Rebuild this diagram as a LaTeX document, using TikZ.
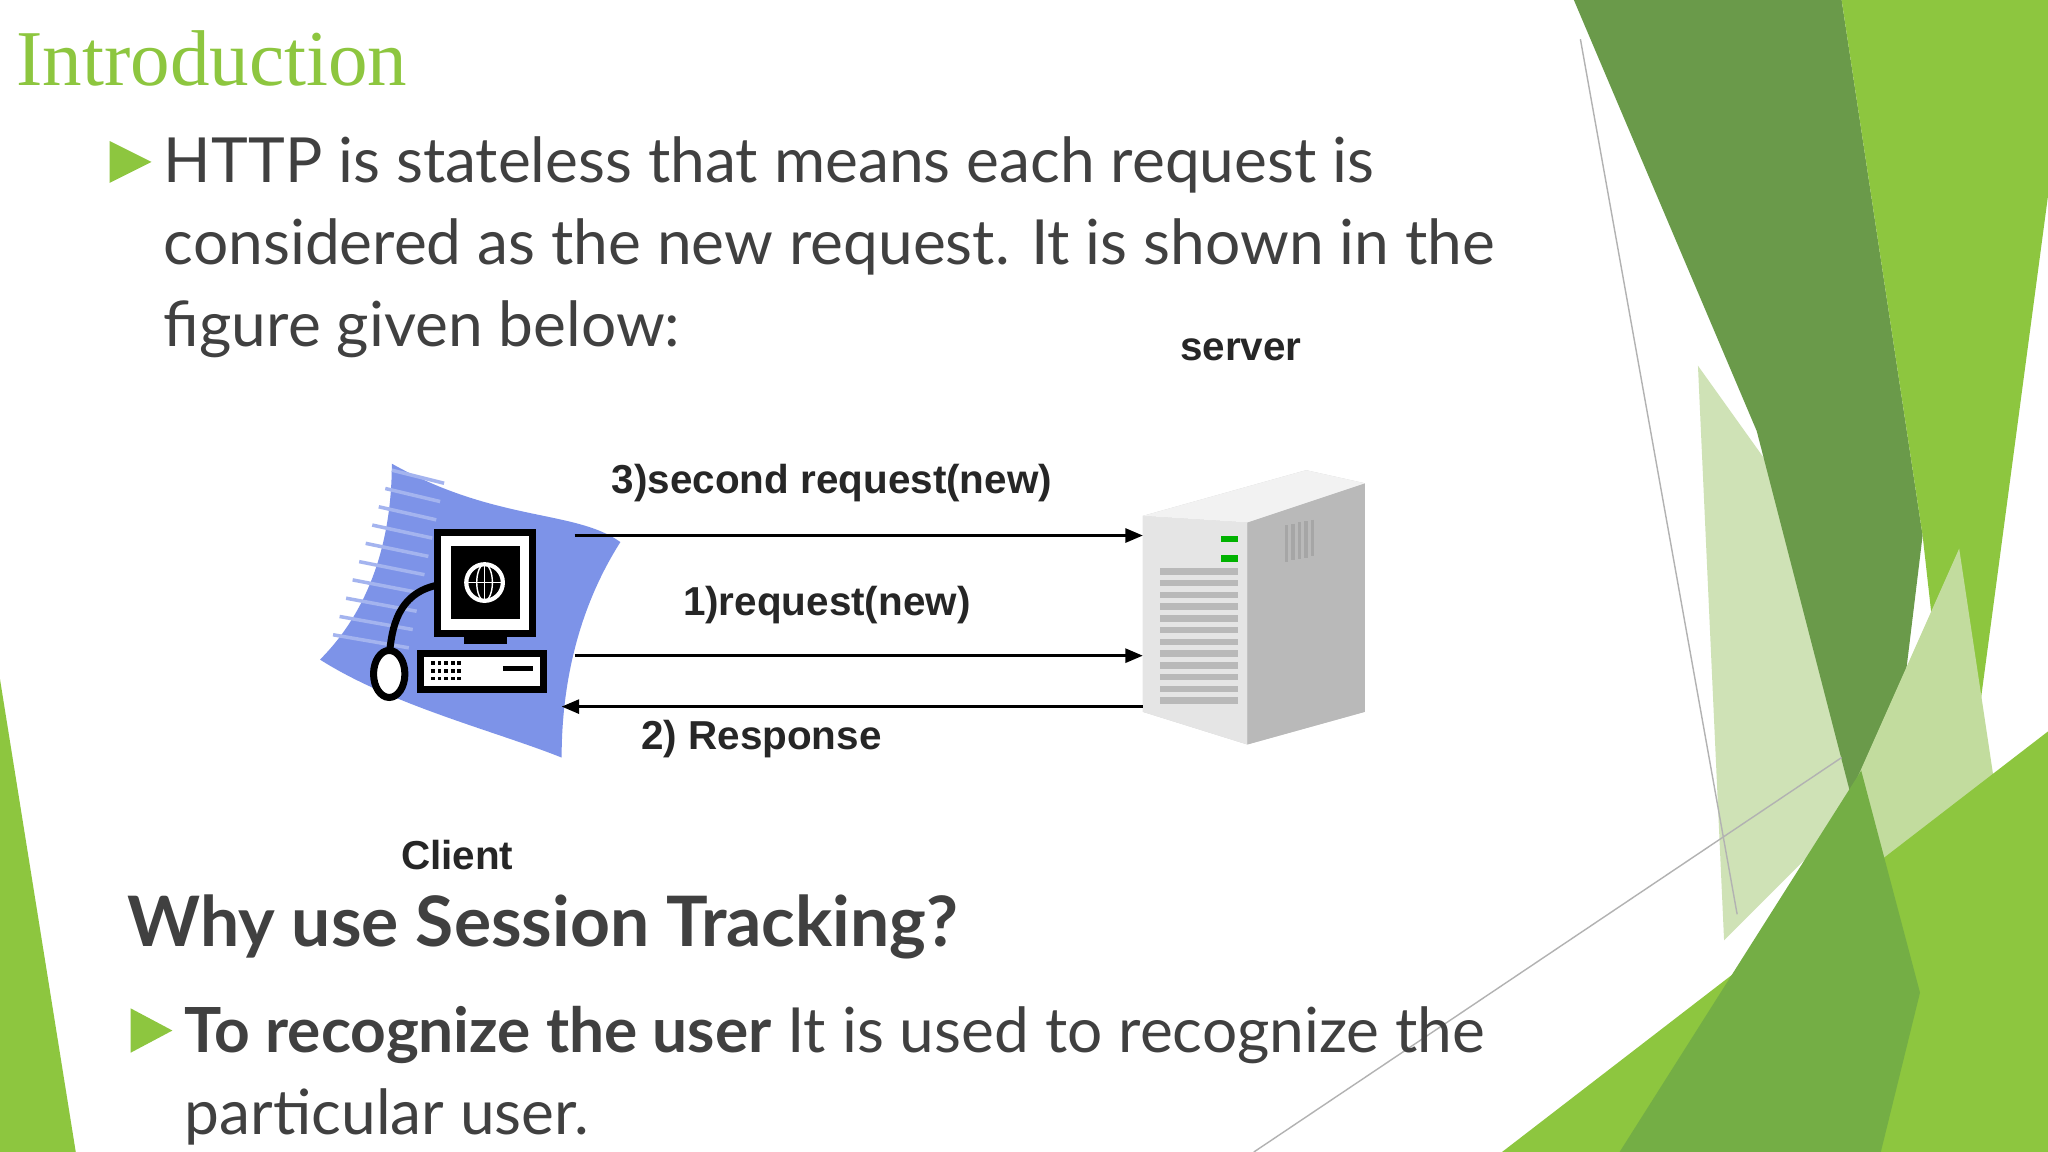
\documentclass[tikz,border=0pt]{standalone}
\usepackage{fontspec}
\setmainfont{Lato}
\newfontfamily\dfont{Liberation Sans}
\newfontfamily\tfont{Liberation Serif}
\usetikzlibrary{arrows.meta}
\definecolor{lg}{HTML}{8DC63F}
\definecolor{dg}{HTML}{6A9A4A}
\definecolor{mg}{HTML}{74AE45}
\definecolor{pg}{HTML}{CFE2B6}
\definecolor{txt}{HTML}{404040}
\definecolor{sw}{HTML}{7D93E8}
\tikzset{conn/.style={-{Triangle[length=5pt,width=4pt]},line width=0.8pt,black},
 lab/.style={font=\dfont\bfseries\fontsize{11.5}{12}\selectfont,text=black!85,inner sep=0pt}}
\begin{document}
\begin{tikzpicture}[x=0.013061cm,y=-0.013061cm]
\useasboundingbox (0,0) rectangle (1568,882);
\fill[white] (0,0) rectangle (1568,882);
% decorative shapes
\fill[pg] (1300,280) -- (1400,420) -- (1420,620) -- (1320,720) -- cycle;
\fill[dg] (1205,0) -- (1410,0) -- (1472,410) -- (1438,690) -- (1345,330) -- cycle;
\fill[lg] (1410,0) -- (1568,0) -- (1568,150) -- (1500,660) -- (1472,410) -- cycle;
\fill[pg!80!lg] (1420,600) -- (1500,420) -- (1530,620) -- (1470,760) -- cycle;
\fill[lg] (1150,882) -- (1568,560) -- (1568,882) -- cycle;
\fill[mg] (1240,882) -- (1425,590) -- (1470,760) -- (1440,882) -- cycle;
\fill[lg] (0,520) -- (58,882) -- (0,882) -- cycle;
\draw[gray!60,thin] (1210,30) -- (1330,700);
\draw[gray!60,thin] (960,882) -- (1410,580);
% texts
\node[anchor=west,text=lg,font=\tfont\fontsize{22.5}{23}\selectfont,inner sep=0pt] (title) at (12,45) {Introduction};
\fill[lg] (84,108) -- (116,124) -- (84,140) -- cycle;
\node[anchor=north west,text=txt,align=left,font=\fontsize{17.7}{23.3}\selectfont,inner sep=0pt] (p1) at (125,104)
 {HTTP is stateless that means each request is\\considered as the new request. It is shown in the\\figure given below:};
\node[anchor=west,text=txt,font=\bfseries\fontsize{19.8}{20}\selectfont,inner sep=0pt] (h2) at (97,710) {Why use Session Tracking?};
\fill[lg] (100,772) -- (132,789) -- (100,806) -- cycle;
\node[anchor=north west,text=txt,align=left,font=\fontsize{17.7}{23.3}\selectfont,inner sep=0pt] (p2) at (141,770)
 {\textbf{To recognize the user} It is used to recognize the\\particular user.};
% client swoosh
\fill[sw] (300,355) .. controls (380,400) and (440,390) .. (475,415) .. controls (440,470) and (430,530) .. (430,580) .. controls (380,560) and (300,540) .. (245,505) .. controls (290,460) and (300,400) .. (300,355) -- cycle;
\foreach \i in {0,...,9} \draw[sw!70,line width=1pt] (300-\i*5,360+\i*14) -- (340-\i*3,370+\i*14);
% computer
\draw[line width=2pt,fill=white] (335,408) rectangle (408,485);
\fill[black] (345,418) rectangle (398,474);
\draw[white,line width=1.2pt] (371,446) circle (14);
\draw[white] (357,446) -- (385,446) (371,432) -- (371,460);
\draw[white] (371,446) ellipse (6 and 14);
\fill[black] (355,485) rectangle (388,493);
\draw[line width=2pt,fill=white] (322,500) rectangle (416,528);
\draw[line width=1.5pt] (385,512) -- (408,512);
\foreach \a in {0,...,4} \foreach \b in {0,1,2} \fill (330+\a*5,506+\b*6) rectangle +(3,3);
\draw[line width=2pt] (335,448) .. controls (300,455) and (300,490) .. (298,500);
\draw[line width=2pt,fill=white] (298,516) ellipse (12 and 18);
% server
\fill[gray!35] (875,395) -- (1000,360) -- (1045,370) -- (1045,545) -- (955,570) -- (875,545) -- cycle;
\fill[gray!20] (875,395) -- (955,400) -- (955,570) -- (875,545) -- cycle;
\fill[gray!55] (955,400) -- (1045,370) -- (1045,545) -- (955,570) -- cycle;
\fill[gray!10] (875,395) -- (1000,360) -- (1045,370) -- (955,400) -- cycle;
\foreach \k in {0,...,11} \fill[gray!55] (888,435+\k*9) rectangle (948,440+\k*9);
\fill[green!70!black] (935,410) rectangle (948,415);
\fill[green!70!black] (935,425) rectangle (948,430);
\foreach \k in {0,...,4} \draw[gray!70,line width=1pt] (985+\k*5,402-\k*1) -- (985+\k*5,430-\k*1);
% connectors
\coordinate (a1) at (440,410); \coordinate (b1) at (875,410);
\coordinate (a2) at (440,502); \coordinate (b2) at (875,502);
\coordinate (a3) at (430,541); \coordinate (b3) at (875,541);
\draw[conn] (a1) -- (b1);
\draw[conn] (a2) -- (b2);
\draw[conn] (b3) -- (a3);
\node[lab] (l1) at (637,370) {3)second request(new)};
\node[lab] (l2) at (633,463) {1)request(new)};
\node[lab] (l3) at (583,566) {2) Response};
\node[lab] (ls) at (950,268) {server};
\node[lab] (lc) at (350,655) {Client};
\end{tikzpicture}
\end{document}
